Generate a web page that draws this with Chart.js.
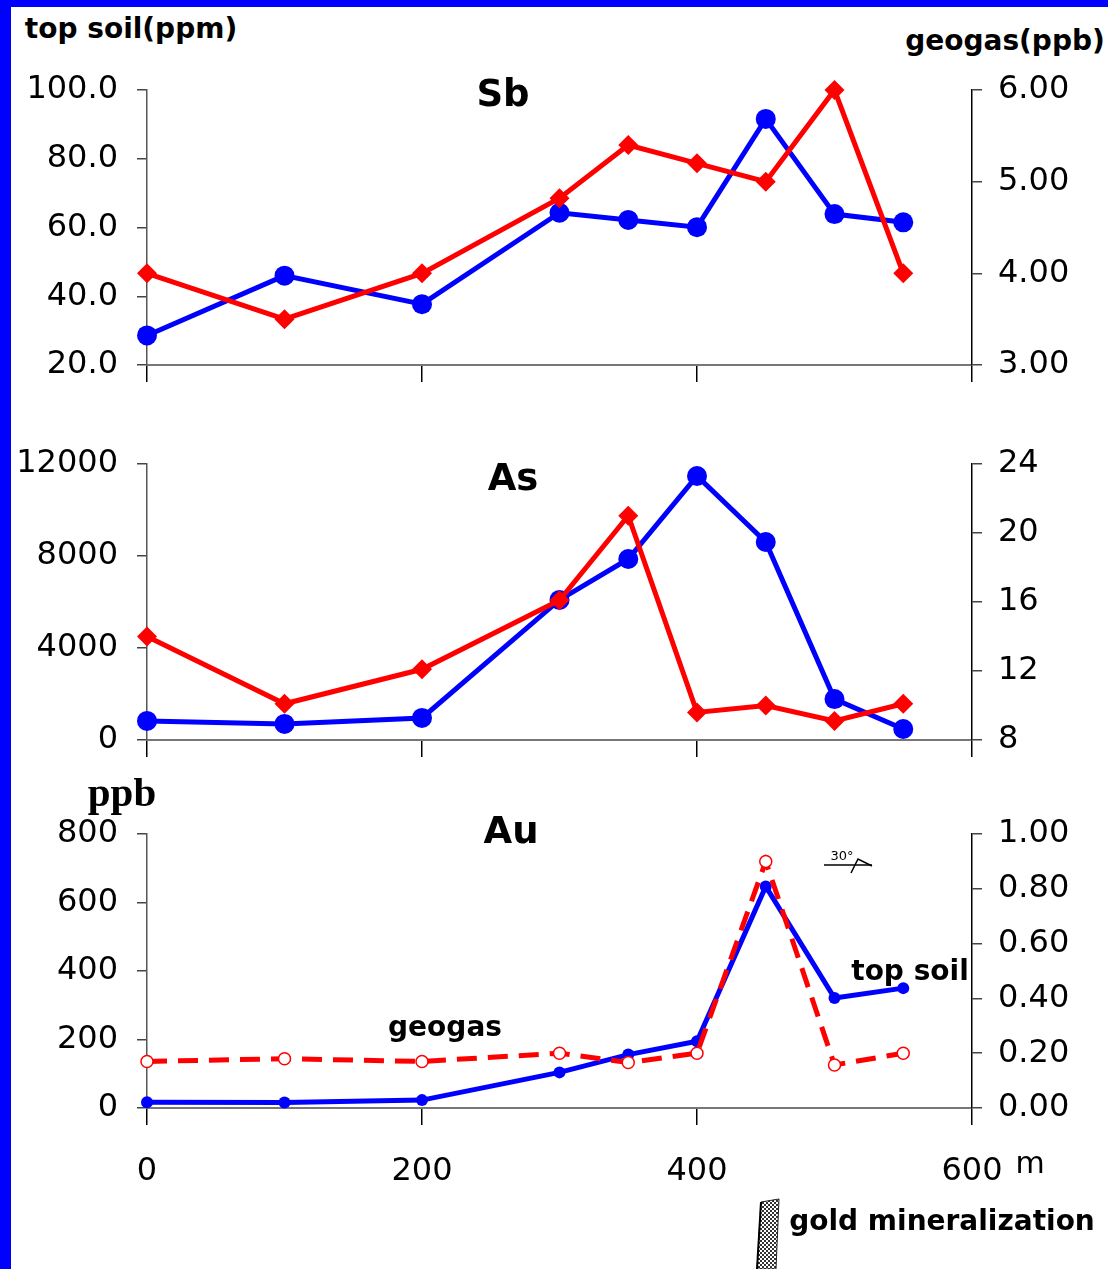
<!DOCTYPE html>
<html>
<head>
<meta charset="utf-8">
<script src="https://cdn.jsdelivr.net/npm/chart.js@4.4.1/dist/chart.umd.min.js"></script>
<style>
body { margin:0; background:#fff; width:1108px; height:1269px; position:relative; overflow:hidden; font-family:"DejaVu Sans", sans-serif; }
canvas { position:absolute; left:0; }
.txt { position:absolute; font-weight:bold; font-size:28px; line-height:1; white-space:nowrap; color:#000; transform:translate(-50%,-50%); }
.bar { position:absolute; background:#0000ff; }
</style>
</head>
<body>
<div class="bar" style="left:0;top:0;width:11px;height:1269px"></div>
<div class="bar" style="left:0;top:0;width:1108px;height:7px"></div>

<canvas id="sbChart" width="1108" height="325" style="top:70px"></canvas>
<canvas id="asChart" width="1108" height="326" style="top:444px"></canvas>
<canvas id="auChart" width="1108" height="394" style="top:814px"></canvas>

<div class="txt" style="left:131px;top:29px">top soil(ppm)</div>
<div class="txt" style="left:1005px;top:41px">geogas(ppb)</div>
<div class="txt" style="left:503px;top:93px;font-size:37px">Sb</div>
<div class="txt" style="left:513px;top:477px;font-size:37px">As</div>
<div class="txt" style="left:511px;top:830px;font-size:37px">Au</div>
<div class="txt" style="left:122px;top:792px;font-size:41px;font-family:'Liberation Serif',serif">ppb</div>
<div class="txt" style="left:445px;top:1027px">geogas</div>
<div class="txt" style="left:910px;top:971px">top soil</div>
<div class="txt" style="left:1030px;top:1163px;font-size:30px;font-weight:normal">m</div>
<div class="txt" style="left:942px;top:1221px">gold mineralization</div>
<div class="txt" style="left:842px;top:855px;font-size:13px;font-weight:normal">30&deg;</div>

<svg style="position:absolute;left:0;top:0" width="1108" height="1269">
  <defs>
    <pattern id="hatch" width="4" height="4" patternUnits="userSpaceOnUse">
      <rect width="4" height="4" fill="#fff"/>
      <rect width="2" height="2" fill="#333"/>
      <rect x="2" y="2" width="2" height="2" fill="#333"/>
    </pattern>
  </defs>
  <line x1="824" y1="865" x2="872" y2="865" stroke="#000" stroke-width="1.5"/>
  <polyline points="851,873 858,859 872,866" fill="none" stroke="#000" stroke-width="1.5"/>
  <polygon points="761,1202 779,1199 776,1269 757,1269" fill="url(#hatch)" stroke="#222" stroke-width="1"/>
  <line x1="761" y1="1202" x2="757" y2="1269" stroke="#000" stroke-width="2"/>
</svg>

<script>
// distance along profile (m)
const distances = [0, 100, 200, 300, 350, 400, 450, 500, 550];

// Sb: top soil (ppm, left) and geogas (ppb, right)
const sbSoil = [28.6, 46.0, 37.7, 64.3, 62.2, 60.1, 91.6, 63.9, 61.5];
const sbGas = [4.0, 3.5, 4.0, 4.82, 5.4, 5.2, 5.0, 6.0, 4.0];

// As
const asSoil = [830, 700, 960, 6090, 7870, 11480, 8610, 1780, 480];
const asGas = [14.0, 10.1, 12.1, 16.1, 21.0, 9.6, 10.0, 9.1, 10.1];

// Au
const auSoil = [17, 16, 23, 104, 156, 195, 647, 321, 350];
const auGas = [0.17, 0.18, 0.17, 0.20, 0.166, 0.20, 0.90, 0.157, 0.20];

// tick values
const xTicks = [0, 200, 400, 600];
const sbLeftTicks = [20, 40, 60, 80, 100];
const sbRightTicks = [3, 4, 5, 6];
const asLeftTicks = [0, 4000, 8000, 12000];
const asRightTicks = [8, 10, 12, 14, 16, 18, 20, 22, 24];
const auLeftTicks = [0, 200, 400, 600, 800];
const auRightTicks = [0, 0.2, 0.4, 0.6, 0.8, 1.0];

const BLUE = "#0000ff";
const RED = "#ff0000";
const tickFont = { family: "DejaVu Sans", size: 32 };

function pts(vals) {
  return vals.map((v, i) => ({ x: distances[i], y: v }));
}

function fixedTicks(arr) {
  return scale => { scale.ticks = arr.map(v => ({ value: v })); };
}

// labels may hang over the plot edges; the canvas leaves room for them
function noPad(s) {
  s.paddingTop = 0; s.paddingBottom = 0; s.paddingLeft = 0; s.paddingRight = 0;
}

function yAxis(pos, ticks, fmt) {
  return {
    type: "linear",
    position: pos,
    min: ticks[0],
    max: ticks[ticks.length - 1],
    afterBuildTicks: fixedTicks(ticks),
    afterFit: s => { s.width = pos == "left" ? 147 : 136; noPad(s); },
    ticks: {
      font: tickFont, color: "#000",
      padding: pos == "left" ? 19 : 16,
      callback: fmt
    },
    grid: { drawOnChartArea: false, tickLength: 10, color: "#444", lineWidth: 1.5 },
    border: { color: pos == "left" ? "#555" : "#000", width: 1.5 }
  };
}

function makeChart(id, soilSet, gasSet, left, right, showX, xHeight) {
  return new Chart(document.getElementById(id), {
    type: "line",
    data: { datasets: [gasSet, soilSet] },
    options: {
      responsive: false,
      animation: false,
      events: [],
      layout: { padding: { top: 20, left: 0, right: 0, bottom: 0 } },
      plugins: { legend: { display: false }, tooltip: { enabled: false } },
      scales: {
        x: {
          type: "linear",
          min: 0, max: 600,
          afterBuildTicks: fixedTicks(xTicks),
          afterFit: s => { s.height = xHeight; noPad(s); },
          ticks: { display: showX, font: tickFont, color: "#000", padding: 27 },
          grid: { drawOnChartArea: false, tickLength: 17, color: "#000", lineWidth: 1.5 },
          border: { color: "#777", width: 2 }
        },
        y: left,
        y1: right
      }
    }
  });
}

function soil(vals, radius) {
  return {
    data: pts(vals), yAxisID: "y",
    borderColor: BLUE, backgroundColor: BLUE, borderWidth: 5,
    pointStyle: "circle", pointRadius: radius, pointBorderWidth: 0,
    tension: 0, clip: false
  };
}

function gasDiamond(vals) {
  return {
    data: pts(vals), yAxisID: "y1",
    borderColor: RED, backgroundColor: RED, borderWidth: 5,
    pointStyle: "rectRot", pointRadius: 10, pointBorderWidth: 0,
    tension: 0, clip: false
  };
}

makeChart("sbChart", soil(sbSoil, 10), gasDiamond(sbGas),
  yAxis("left", sbLeftTicks, v => v.toFixed(1)),
  yAxis("right", sbRightTicks, v => v.toFixed(2)),
  false, 30);

makeChart("asChart", soil(asSoil, 10), gasDiamond(asGas),
  yAxis("left", asLeftTicks, v => String(v)),
  yAxis("right", asRightTicks, v => (v % 4 == 0 ? String(v) : "")),
  false, 30);

makeChart("auChart", soil(auSoil, 6),
  {
    data: pts(auGas), yAxisID: "y1",
    borderColor: RED, borderWidth: 5, borderDash: [20, 11],
    pointStyle: "circle", pointRadius: 6,
    pointBackgroundColor: "#fff", pointBorderColor: RED, pointBorderWidth: 1.5,
    tension: 0, clip: false
  },
  yAxis("left", auLeftTicks, v => String(v)),
  yAxis("right", auRightTicks, v => v.toFixed(2)),
  true, 100);
</script>
</body>
</html>
